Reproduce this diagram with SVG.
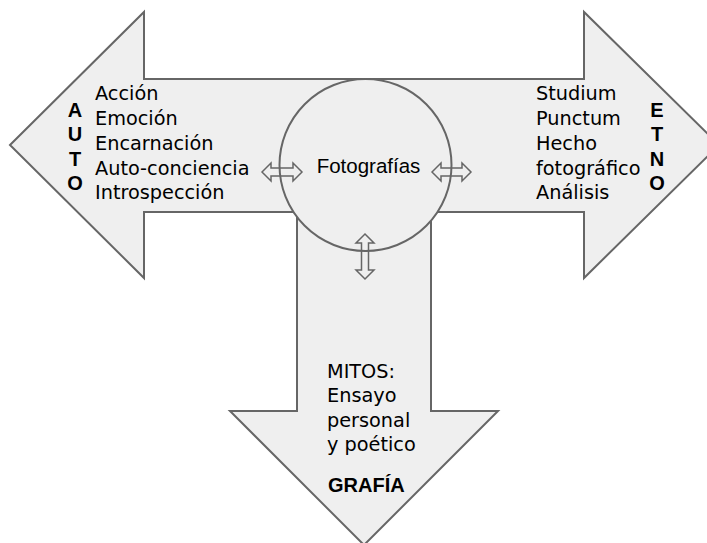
<svg xmlns="http://www.w3.org/2000/svg" width="707" height="543" viewBox="0 0 707 543">
<defs>
<style>
.shape{fill:#efefef;stroke:#666666;stroke-width:2;stroke-linejoin:miter}
.dbl{fill:none;stroke:#666666;stroke-width:1.5;stroke-linejoin:miter}
.list{font-family:"DejaVu Sans","Open Sans",sans-serif;font-size:19.3px;fill:#000}
.bold{font-family:"Liberation Sans",Arial,sans-serif;font-size:20px;font-weight:bold;fill:#000}
.center{font-family:"Liberation Sans",Arial,sans-serif;font-size:20.5px;fill:#000}
</style>
</defs>
<rect width="707" height="543" fill="#ffffff"/>
<g id="arrows-shape">
<polygon class="shape" points="10,145 144,12 144,79 584,79 584,12 719,145 584,278 584,212 431,212 431,411 498,411 364,545 230,411 297,411 297,212 144,212 144,278"/>
</g>
<g id="fotografias">
<circle class="shape" cx="365.5" cy="165" r="86"/>
<text class="center" x="368.5" y="173" text-anchor="middle">Fotografías</text>
</g>
<g id="connectors">
<polygon class="dbl" points="262,172 271,163 271,168 293,168 293,163 302,172 293,181 293,176 271,176 271,181"/>
<polygon class="dbl" points="432,172 441,163 441,168 462,168 462,163 471,172 462,181 462,176 441,176 441,181"/>
<polygon class="dbl" points="365,234 374,243 368.5,243 368.5,270 374,270 365,279 356,270 361.5,270 361.5,243 356,243"/>
</g>
<g id="auto">
<text class="bold" x="75" y="117" text-anchor="middle">A</text>
<text class="bold" x="75" y="141" text-anchor="middle">U</text>
<text class="bold" x="75" y="166" text-anchor="middle">T</text>
<text class="bold" x="75" y="190" text-anchor="middle">O</text>
<text class="list" x="95" y="100">Acción</text>
<text class="list" x="95" y="125">Emoción</text>
<text class="list" x="95" y="150">Encarnación</text>
<text class="list" x="95" y="175">Auto-conciencia</text>
<text class="list" x="95" y="199">Introspección</text>
</g>
<g id="etno">
<text class="list" x="536" y="100">Studium</text>
<text class="list" x="536" y="125">Punctum</text>
<text class="list" x="536" y="150">Hecho</text>
<text class="list" x="536" y="175">fotográfico</text>
<text class="list" x="536" y="199">Análisis</text>
<text class="bold" x="657" y="117" text-anchor="middle">E</text>
<text class="bold" x="657" y="141" text-anchor="middle">T</text>
<text class="bold" x="657" y="166" text-anchor="middle">N</text>
<text class="bold" x="657" y="190" text-anchor="middle">O</text>
</g>
<g id="grafia">
<text class="list" x="327" y="378">MITOS:</text>
<text class="list" x="327" y="402">Ensayo</text>
<text class="list" x="327" y="427">personal</text>
<text class="list" x="327" y="451">y poético</text>
<text class="bold" x="328" y="492">GRAFÍA</text>
</g>
</svg>
